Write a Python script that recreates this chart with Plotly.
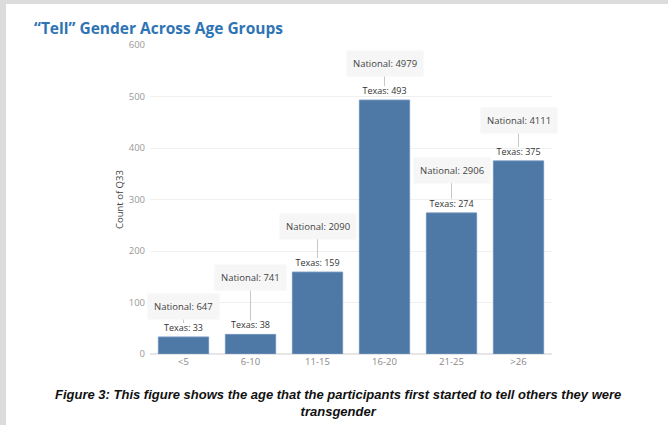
import plotly.graph_objects as go

# ---- data ----
age_groups = ["<5", "6-10", "11-15", "16-20", "21-25", ">26"]
texas_counts = [33, 38, 159, 493, 274, 375]
national_counts = [647, 741, 2090, 4979, 2906, 4111]
# vertical placement (in axis units) of the "National" callout boxes
national_label_y = [92, 148, 248, 564, 357, 453]
y_ticks = [0, 100, 200, 300, 400, 500, 600]

W, H = 668, 425
L, R, T, B = 150, 116, 45, 71
pw, ph = W - L - R, H - T - B


def px_x(px):
    return (px - L) / pw


def px_y(py):
    return (H - B - py) / ph


fig = go.Figure()
fig.add_trace(go.Bar(
    x=list(range(len(age_groups))),
    y=texas_counts,
    marker=dict(color="#4e79a7", line=dict(color="#6f93bd", width=1)),
    text=[f"Texas: {v}" for v in texas_counts],
    textposition="outside",
    textfont=dict(family="Open Sans", size=9, color="#333"),
    cliponaxis=False,
    hoverinfo="skip",
))

annotations = []
for i, (v, n, ly) in enumerate(zip(texas_counts, national_counts, national_label_y)):
    annotations.append(dict(
        x=i, y=v, xref="x", yref="y",
        ax=i, ay=ly, axref="x", ayref="y",
        text=f"National: {n}",
        showarrow=True, arrowhead=0, arrowwidth=1, arrowcolor="#c8c8c8",
        standoff=14,
        bgcolor="#f6f6f6", borderpad=6,
        font=dict(family="Open Sans", size=9.5, color="#444"),
    ))

# title
annotations.append(dict(
    x=px_x(32), y=px_y(28), xref="paper", yref="paper",
    xanchor="left", yanchor="middle", showarrow=False,
    text="<b>“Tell” Gender Across Age Groups</b>",
    font=dict(family="Open Sans", size=15.5, color="#2e74b5"),
))
# y axis title
annotations.append(dict(
    x=px_x(120), y=px_y(200), xref="paper", yref="paper",
    xanchor="center", yanchor="middle", showarrow=False, textangle=-90,
    text="Count of Q33",
    font=dict(family="Open Sans", size=9.5, color="#444"),
))
# caption
annotations.append(dict(
    x=px_x(338), y=px_y(403), xref="paper", yref="paper",
    xanchor="center", yanchor="middle", showarrow=False,
    text="<b><i>Figure 3: This figure shows the age that the participants first started to tell others they were<br>transgender</i></b>",
    font=dict(family="Liberation Sans", size=13, color="#111"),
))

shapes = [
    dict(type="rect", xref="paper", yref="paper",
         x0=px_x(0), x1=px_x(6), y0=px_y(H), y1=px_y(0),
         fillcolor="#dcdcdc", line=dict(width=0), layer="below"),
    dict(type="rect", xref="paper", yref="paper",
         x0=px_x(0), x1=px_x(W), y0=px_y(4), y1=px_y(0),
         fillcolor="#dcdcdc", line=dict(width=0), layer="below"),
]

fig.update_layout(
    width=W, height=H,
    margin=dict(l=L, r=R, t=T, b=B, pad=0),
    paper_bgcolor="white", plot_bgcolor="white",
    showlegend=False,
    bargap=0.25,
    annotations=annotations,
    shapes=shapes,
    xaxis=dict(
        tickmode="array", tickvals=list(range(len(age_groups))), ticktext=age_groups,
        range=[-0.5, len(age_groups) - 0.5],
        showgrid=False, zeroline=False, showline=False, ticks="",
        tickfont=dict(family="Open Sans", size=9.5, color="#888"),
    ),
    yaxis=dict(
        range=[0, 600], tickvals=y_ticks,
        showgrid=True, gridcolor="#f0f0f0", gridwidth=1,
        zeroline=True, zerolinecolor="#e6e6e6",
        showline=False, ticks="",
        tickfont=dict(family="Open Sans", size=9.5, color="#999"),
        ticklabelstandoff=4,
    ),
)

fig.write_html(
    "out.html",
    config={"displayModeBar": False},
    post_script="document.body.style.margin='0';document.body.style.overflow='hidden';",
)
